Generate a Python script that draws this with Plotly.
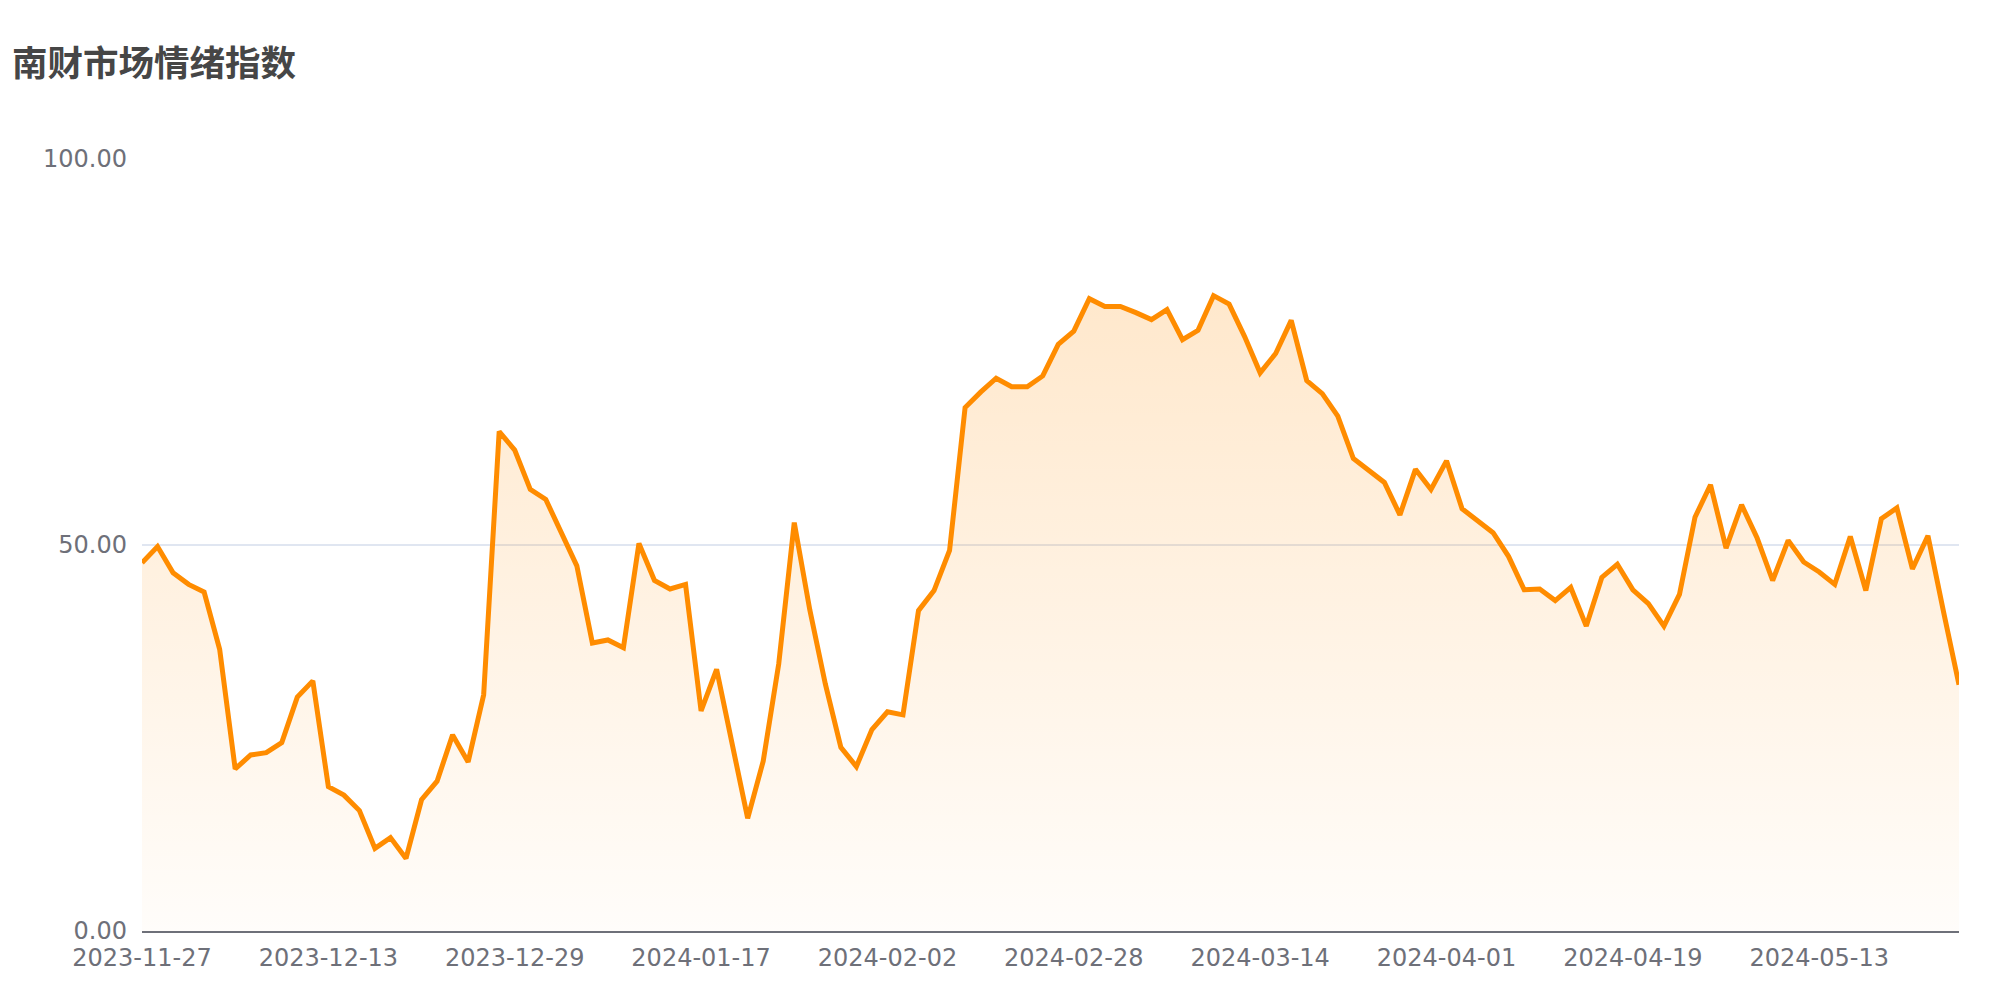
import plotly.graph_objects as go

title_text = "南财市场情绪指数"

dates = [
    "2023-11-27", "2023-11-28", "2023-11-29", "2023-11-30", "2023-12-01",
    "2023-12-04", "2023-12-05", "2023-12-06", "2023-12-07", "2023-12-08",
    "2023-12-11", "2023-12-12", "2023-12-13", "2023-12-14", "2023-12-15",
    "2023-12-18", "2023-12-19", "2023-12-20", "2023-12-21", "2023-12-22",
    "2023-12-25", "2023-12-26", "2023-12-27", "2023-12-28", "2023-12-29",
    "2024-01-02", "2024-01-03", "2024-01-04", "2024-01-05",
    "2024-01-08", "2024-01-09", "2024-01-10", "2024-01-11", "2024-01-12",
    "2024-01-15", "2024-01-16", "2024-01-17", "2024-01-18", "2024-01-19",
    "2024-01-22", "2024-01-23", "2024-01-24", "2024-01-25", "2024-01-26",
    "2024-01-29", "2024-01-30", "2024-01-31", "2024-02-01", "2024-02-02",
    "2024-02-05", "2024-02-06", "2024-02-07", "2024-02-08",
    "2024-02-19", "2024-02-20", "2024-02-21", "2024-02-22", "2024-02-23",
    "2024-02-26", "2024-02-27", "2024-02-28", "2024-02-29", "2024-03-01",
    "2024-03-04", "2024-03-05", "2024-03-06", "2024-03-07", "2024-03-08",
    "2024-03-10", "2024-03-11", "2024-03-12", "2024-03-13", "2024-03-14",
    "2024-03-15", "2024-03-18", "2024-03-19", "2024-03-20", "2024-03-21",
    "2024-03-22", "2024-03-25", "2024-03-26", "2024-03-27", "2024-03-28",
    "2024-03-29", "2024-04-01", "2024-04-02", "2024-04-03",
    "2024-04-08", "2024-04-09", "2024-04-10", "2024-04-11", "2024-04-12",
    "2024-04-15", "2024-04-16", "2024-04-17", "2024-04-18", "2024-04-19",
    "2024-04-22", "2024-04-23", "2024-04-24", "2024-04-25", "2024-04-26",
    "2024-04-29", "2024-05-06", "2024-05-07", "2024-05-08", "2024-05-09",
    "2024-05-10", "2024-05-13", "2024-05-14", "2024-05-15", "2024-05-16",
    "2024-05-17", "2024-05-20", "2024-05-21", "2024-05-22", "2024-05-23",
    "2024-05-24",
]

values = [
    47.7, 49.8, 46.4, 44.9, 43.9, 36.5, 21.0, 22.8, 23.1, 24.4,
    30.3, 32.4, 18.7, 17.6, 15.6, 10.7, 12.1, 9.4, 17.0, 19.4,
    25.4, 21.9, 30.6, 64.7, 62.3, 57.2, 55.9, 51.6, 47.3, 37.3,
    37.7, 36.7, 50.2, 45.4, 44.3, 44.9, 28.5, 33.9, 24.1, 14.6,
    22.0, 34.6, 52.9, 41.6, 32.0, 23.8, 21.3, 26.1, 28.4, 28.0,
    41.5, 44.1, 49.3, 67.8, 69.8, 71.6, 70.5, 70.5, 71.9, 76.0,
    77.7, 81.9, 80.9, 80.9, 80.1, 79.2, 80.5, 76.6, 77.8, 82.3,
    81.2, 77.0, 72.3, 74.8, 79.1, 71.3, 69.6, 66.7, 61.2, 59.6,
    58.1, 53.9, 59.8, 57.2, 60.9, 54.7, 53.2, 51.6, 48.5, 44.2,
    44.3, 42.8, 44.5, 39.5, 45.8, 47.5, 44.2, 42.4, 39.5, 43.6,
    53.6, 57.8, 49.6, 55.2, 50.9, 45.4, 50.6, 47.8, 46.5, 44.9,
    51.1, 44.1, 53.4, 54.8, 46.9, 51.2, 41.4, 31.9,
]

x_tick_labels = [
    "2023-11-27", "2023-12-13", "2023-12-29", "2024-01-17", "2024-02-02",
    "2024-02-28", "2024-03-14", "2024-04-01", "2024-04-19", "2024-05-13",
]
y_tick_values = [0, 50, 100]

line_color = "#ff8c00"
axis_text_color = "#6e7079"
grid_color = "#e0e6f1"

fig = go.Figure()
fig.add_trace(go.Scatter(
    x=dates,
    y=values,
    mode="lines",
    line=dict(color=line_color, width=5),
    fill="tozeroy",
    fillgradient=dict(
        type="vertical",
        colorscale=[[0, "rgba(255,140,0,0.02)"], [1, "rgba(255,140,0,0.2)"]],
        start=0,
        stop=max(values),
    ),
    hovertemplate="%{x}<br>%{y:.2f}<extra></extra>",
    showlegend=False,
))

fig.update_layout(
    width=2000,
    height=1000,
    margin=dict(l=142, r=41, t=159, b=69),
    paper_bgcolor="white",
    plot_bgcolor="white",
    font=dict(family="DejaVu Sans", size=24, color=axis_text_color),
    title=dict(
        text="<b>" + title_text + "</b>",
        xref="container", yref="container",
        x=0.006, xanchor="left",
        y=0.9365, yanchor="middle",
        font=dict(family="Noto Sans CJK SC", size=35.5, color="#464646"),
    ),
    xaxis=dict(
        type="category",
        categoryorder="array",
        categoryarray=dates,
        range=[0, len(dates) - 1],
        tickmode="array",
        tickvals=x_tick_labels,
        ticktext=x_tick_labels,
        showgrid=False,
        showline=True,
        linecolor=axis_text_color,
        linewidth=2,
        ticks="",
        ticklabelstandoff=4,
        tickfont=dict(size=24, color=axis_text_color),
        zeroline=False,
        fixedrange=True,
    ),
    yaxis=dict(
        range=[0, 100],
        tickmode="array",
        tickvals=y_tick_values,
        tickformat=".2f",
        showgrid=True,
        gridcolor=grid_color,
        gridwidth=1.5,
        showline=False,
        zeroline=False,
        ticks="",
        ticklabelstandoff=14,
        tickfont=dict(size=24, color=axis_text_color),
        fixedrange=True,
    ),
)

fig.write_html(
    "out.html",
    config={"displayModeBar": False},
    post_script="document.body.style.margin='0';document.body.style.overflow='hidden';",
)
